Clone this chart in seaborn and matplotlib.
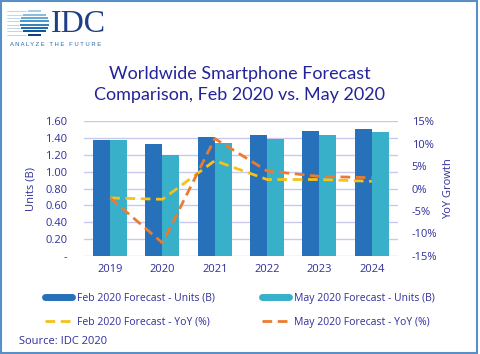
import pandas as pd
import numpy as np
import matplotlib
matplotlib.use("Agg")
import matplotlib.pyplot as plt
import seaborn as sns
from matplotlib.lines import Line2D
from matplotlib.patches import Rectangle

# datos
years = ["2019", "2020", "2021", "2022", "2023", "2024"]
feb_units = [1.37, 1.33, 1.41, 1.44, 1.48, 1.50]
may_units = [1.37, 1.20, 1.34, 1.39, 1.43, 1.47]
feb_yoy = [-2.1, -2.4, 6.2, 2.0, 2.0, 1.6]
may_yoy = [-2.1, -12.1, 11.1, 3.9, 2.7, 2.4]

feb_lbl_u = "Feb 2020 Forecast - Units (B)"
may_lbl_u = "May 2020 Forecast - Units (B)"
feb_lbl_y = "Feb 2020 Forecast - YoY (%)"
may_lbl_y = "May 2020 Forecast - YoY (%)"

c_feb = "#2671b9"
c_may = "#38b0c9"
c_feb_line = "#f4c21a"
c_may_line = "#ec7b30"
txt = "#2f2f9c"
grid_c = "#c9c9f0"

sns.set_style("white")
plt.rcParams["font.family"] = ["Open Sans", "DejaVu Sans"]

units = pd.DataFrame({
    "Year": years * 2,
    "Units": feb_units + may_units,
    "Serie": [feb_lbl_u] * 6 + [may_lbl_u] * 6,
})

fig = plt.figure(figsize=(4.8, 3.54), dpi=100)
ax = fig.add_axes([0.175, 0.277, 0.654, 0.381])

sns.barplot(data=units, x="Year", y="Units", hue="Serie",
            palette=[c_feb, c_may], width=0.65, saturation=1, gap=0,
            linewidth=0, legend=False, ax=ax)
ax.set_ylim(0, 1.6)
ax.set_yticks(np.arange(0, 1.61, 0.2))
ax.set_yticklabels(["-"] + ["%.2f" % v for v in np.arange(0.2, 1.61, 0.2)])
ax.yaxis.grid(True, color=grid_c, lw=1)
ax.set_axisbelow(True)
for s in ax.spines.values():
    s.set_visible(False)
ax.tick_params(axis="both", length=0, labelsize=8, colors=txt, pad=12)
ax.tick_params(axis="x", pad=6)
ax.set_xlabel("")
ax.set_ylabel("Units (B)", color=txt, fontsize=8, labelpad=6)

ax2 = ax.twinx()
x = np.arange(len(years))
sns.lineplot(x=x, y=feb_yoy, color=c_feb_line, lw=2, ax=ax2)
sns.lineplot(x=x, y=may_yoy, color=c_may_line, lw=2, ax=ax2)
for l in ax2.lines:
    l.set_dashes([3.5, 2])
ax2.set_ylim(-15, 15)
ax2.set_yticks(range(-15, 16, 5))
ax2.set_yticklabels(["%d%%" % v for v in range(-15, 16, 5)])
for s in ax2.spines.values():
    s.set_visible(False)
ax2.tick_params(axis="y", length=0, labelsize=8, colors=txt, pad=10)
ax2.set_ylabel("YoY Growth", color=txt, fontsize=8, labelpad=4)
ax.set_xlim(-0.5, 5.5)

fig.text(0.5, 0.762, "Worldwide Smartphone Forecast\nComparison, Feb 2020 vs. May 2020",
         ha="center", va="center", fontsize=13, color="#23239a",
         linespacing=1.35, family=["Lato", "DejaVu Sans"])

handles = [
    Line2D([], [], color=c_feb, lw=5),
    Line2D([], [], color=c_feb_line, lw=2, dashes=[3.5, 2]),
    Line2D([], [], color=c_may, lw=5),
    Line2D([], [], color=c_may_line, lw=2, dashes=[3.5, 2]),
]
labels = [feb_lbl_u, feb_lbl_y, may_lbl_u, may_lbl_y]
leg = fig.legend(handles, labels, ncol=2, loc="center", bbox_to_anchor=(0.5, 0.124),
                 frameon=False, fontsize=7.5, handlelength=2.6, columnspacing=4.5,
                 labelspacing=1.25, handletextpad=0.5)
for t in leg.get_texts():
    t.set_color(txt)

fig.text(0.04, 0.035, "Source: IDC 2020", color=txt, fontsize=8, va="center")

# logo IDC
lax = fig.add_axes([0.015, 0.895, 0.09, 0.08])
lax.set_xlim(-1.9, 1.1)
lax.set_ylim(-1.05, 1.05)
lax.axis("off")
ys = np.linspace(0.88, -0.88, 8)
for i, yy in enumerate(ys):
    hw = np.sqrt(max(1 - yy ** 2, 0))
    col = plt.cm.Blues(0.35 + 0.6 * i / (len(ys) - 1))
    lax.plot([-hw, hw], [yy, yy], color=col, lw=1.4, solid_capstyle="butt")
    lax.plot([-1.9, -hw - 0.1], [yy, yy], color="#a9c4e0", lw=0.5)
fig.text(0.105, 0.93, "IDC", fontsize=23, color="#1d3f86", va="center",
         family=["Liberation Serif", "DejaVu Serif"])
fig.text(0.02, 0.875, "A N A L Y Z E   T H E   F U T U R E", fontsize=4.2,
         color="#2a67ad", va="center", family=["Liberation Sans", "DejaVu Sans"])

fig.add_artist(Rectangle((0.003, 0.004), 0.991, 0.992, transform=fig.transFigure,
                         fill=False, edgecolor="#5a8fc6", lw=1.5))

fig.savefig("out.png", dpi=100)
